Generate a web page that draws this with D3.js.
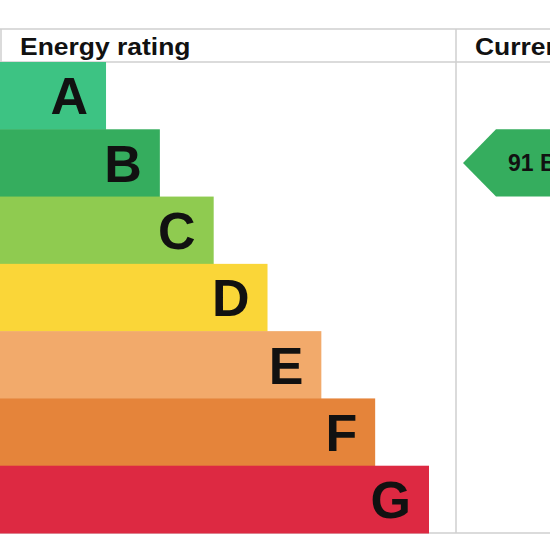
<!DOCTYPE html>
<html>
<head>
<meta charset="utf-8">
<script src="https://cdn.jsdelivr.net/npm/d3@7"></script>
<style>
  html, body { margin: 0; padding: 0; background: #fff; overflow: hidden; }
  text { font-family: "Liberation Sans", Arial, sans-serif; font-weight: bold; fill: #111; }
</style>
</head>
<body>
<div id="wrapper"></div>
<script>
// data
const ratings = ["A", "B", "C", "D", "E", "F", "G"];
const bandRank = [1, 2, 3, 4, 5, 6, 7];
const bandColors = ["#3dc383", "#35ad5e", "#8fcb50", "#fad638", "#f2aa6b", "#e5843a", "#dd2942"];
const currentScore = 91;
const currentRating = "B";
const headers = ["Energy rating", "Current"];

const dimensions = {width: 550, height: 550};

const wrapper = d3.select("#wrapper").append("svg")
  .attr("width", dimensions.width)
  .attr("height", dimensions.height);

// layout of the table
const tableTop = 29, headerBottom = 62, tableBottom = 533, divider = 456;

const yScale = d3.scaleBand().domain(ratings).range([headerBottom, tableBottom]);
const xScale = d3.scaleLinear().domain([0, 7]).range([52.2, 429]);

// grid lines
const grid = wrapper.append("g").attr("stroke", "#cfcfcf").attr("stroke-width", 1.5);
grid.append("line").attr("x1", 0).attr("x2", 550).attr("y1", tableTop).attr("y2", tableTop);
grid.append("line").attr("x1", 0).attr("x2", 550).attr("y1", headerBottom).attr("y2", headerBottom);
grid.append("line").attr("x1", 0).attr("x2", 550).attr("y1", tableBottom).attr("y2", tableBottom);
grid.append("line").attr("x1", 1).attr("x2", 1).attr("y1", tableTop).attr("y2", headerBottom);
grid.append("line").attr("x1", divider).attr("x2", divider).attr("y1", tableTop).attr("y2", tableBottom);

// headers (slightly wide lettering, as in the original)
wrapper.append("text").attr("transform", "translate(20,55) scale(1.08,1)").style("font-size", "24.5px").text(headers[0]);
wrapper.append("text").attr("transform", "translate(475,55) scale(1.08,1)").style("font-size", "24.5px").text(headers[1]);

// bands
const bands = wrapper.selectAll(".band")
  .data(ratings)
  .enter()
  .append("g")
  .attr("class", "band");

bands.append("rect")
  .attr("x", 0)
  .attr("y", d => yScale(d))
  .attr("width", (d, i) => xScale(bandRank[i]))
  .attr("height", yScale.bandwidth() + 0.5)
  .attr("fill", (d, i) => bandColors[i]);

bands.append("text")
  .attr("x", (d, i) => xScale(bandRank[i]) - 18)
  .attr("y", d => yScale(d) + yScale.bandwidth() / 2)
  .attr("dy", "0.36em")
  .attr("text-anchor", "end")
  .style("font-size", "52px")
  .text(d => d);

// current rating arrow
const ay = yScale(currentRating), ah = yScale.bandwidth();
const tipX = 463, shoulderX = 496;
wrapper.append("path")
  .attr("d", `M${tipX},${ay + ah / 2} L${shoulderX},${ay} L560,${ay} L560,${ay + ah} L${shoulderX},${ay + ah} Z`)
  .attr("fill", bandColors[ratings.indexOf(currentRating)]);

wrapper.append("text")
  .attr("x", 508)
  .attr("y", ay + ah / 2)
  .attr("dy", "0.36em")
  .style("font-size", "23px")
  .text(`${currentScore} ${currentRating}`);
</script>
</body>
</html>
